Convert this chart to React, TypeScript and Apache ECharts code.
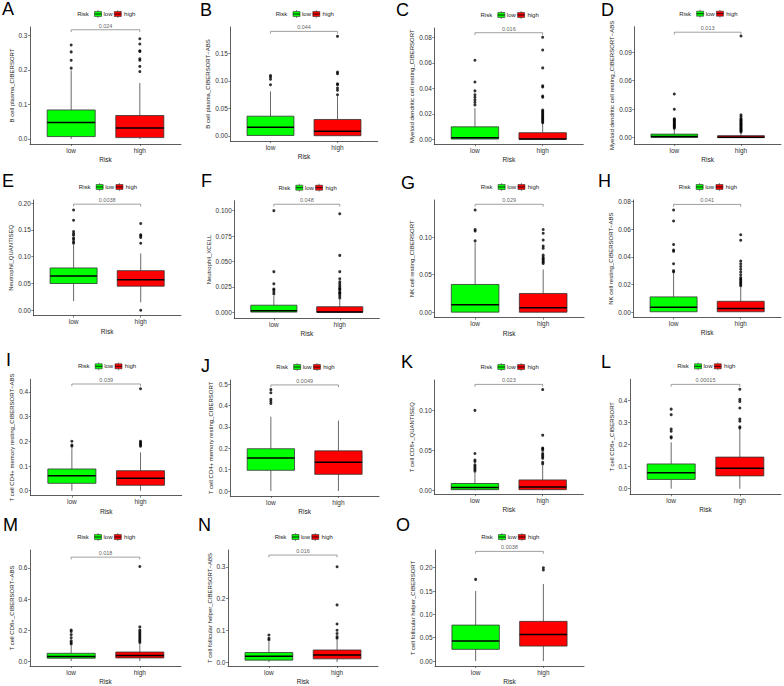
import React, { useEffect, useRef } from "react";
import * as echarts from "echarts";

// ---------------- data ----------------
const categories = ["low", "high"];
const legendTitle = "Risk";
const xTitle = "Risk";
const panelLetters = ["A", "B", "C", "D", "E", "F", "G", "H", "I", "J", "K", "L", "M", "N", "O"];
const yTitles = [
  "B cell plasma_CIBERSORT",
  "B cell plasma_CIBERSORT\u2212ABS",
  "Myeloid dendritic cell resting_CIBERSORT",
  "Myeloid dendritic cell resting_CIBERSORT\u2212ABS",
  "Neutrophil_QUANTISEQ",
  "Neutrophil_XCELL",
  "NK cell resting_CIBERSORT",
  "NK cell resting_CIBERSORT\u2212ABS",
  "T cell CD4+ memory resting_CIBERSORT\u2212ABS",
  "T cell CD4+ memory resting_CIBERSORT",
  "T cell CD8+_QUANTISEQ",
  "T cell CD8+_CIBERSORT",
  "T cell CD8+_CIBERSORT\u2212ABS",
  "T cell follicular helper_CIBERSORT\u2212ABS",
  "T cell follicular helper_CIBERSORT",
];
const pValues = ["0.024", "0.044", "0.016", "0.013", "0.0038", "0.048", "0.029", "0.041", "0.039", "0.0049", "0.023", "0.00015", "0.018", "0.016", "0.0038"];

// [lower whisker, Q1, median, Q3, upper whisker]
const lowBoxes = [
  [0, 0.007, 0.048, 0.084, 0.198],
  [0, 0.001, 0.016, 0.036, 0.081],
  [0, 0.0002, 0.0012, 0.0098, 0.0245],
  [0, 0.0003, 0.0012, 0.0038, 0.0095],
  [0.017, 0.05, 0.064, 0.079, 0.122],
  [0, 0.0002, 0.0015, 0.007, 0.016],
  [0, 0.0002, 0.01, 0.037, 0.093],
  [0, 0.0002, 0.0035, 0.011, 0.028],
  [0, 0.03, 0.061, 0.088, 0.172],
  [0, 0.097, 0.155, 0.198, 0.348],
  [0, 0.0008, 0.0035, 0.0085, 0.022],
  [0, 0.042, 0.072, 0.112, 0.21],
  [0, 0.018, 0.03, 0.05, 0.1],
  [0, 0.006, 0.018, 0.03, 0.065],
  [0, 0.025, 0.043, 0.077, 0.15],
];
const highBoxes = [
  [0, 0.004, 0.032, 0.068, 0.162],
  [0, 0.0005, 0.0085, 0.03, 0.072],
  [0, 0.0001, 0.0003, 0.0052, 0.0125],
  [0, 0.0001, 0.0005, 0.0022, 0.0052],
  [0.015, 0.045, 0.057, 0.074, 0.106],
  [0, 0.0001, 0.0004, 0.0055, 0.013],
  [0, 0.0001, 0.006, 0.025, 0.057],
  [0, 0.0002, 0.0025, 0.0078, 0.018],
  [0, 0.022, 0.05, 0.081, 0.155],
  [0, 0.078, 0.135, 0.188, 0.33],
  [0, 0.0008, 0.004, 0.013, 0.031],
  [0, 0.058, 0.093, 0.143, 0.27],
  [0, 0.02, 0.035, 0.058, 0.11],
  [0, 0.01, 0.022, 0.038, 0.07],
  [0, 0.032, 0.057, 0.085, 0.165],
];
const lowOutliers = [
  [0.205, 0.228, 0.252, 0.272],
  [0.093, 0.103, 0.107, 0.11],
  [0.027, 0.029, 0.031, 0.033, 0.035, 0.038, 0.045, 0.062],
  [0.01, 0.011, 0.012, 0.013, 0.014, 0.015, 0.016, 0.017, 0.018, 0.019, 0.02, 0.03, 0.046],
  [0.125, 0.128, 0.132, 0.135, 0.14, 0.143, 0.147, 0.168, 0.187],
  [0.018, 0.02, 0.022, 0.023, 0.028, 0.04, 0.1],
  [0.095, 0.108, 0.11, 0.136],
  [0.029, 0.03, 0.035, 0.044, 0.045, 0.049, 0.066, 0.074],
  [0.18, 0.185, 0.2],
  [0.41, 0.42, 0.43, 0.46, 0.475],
  [0.024, 0.026, 0.028, 0.03, 0.032, 0.036, 0.038, 0.046, 0.1],
  [0.23, 0.235, 0.26, 0.27, 0.335, 0.36],
  [0.11, 0.12, 0.13, 0.15, 0.17, 0.19, 0.2],
  [0.07, 0.075, 0.085],
  [0.175],
];
const highOutliers = [
  [0.195, 0.21, 0.228, 0.232, 0.253, 0.255, 0.275, 0.29],
  [0.075, 0.083, 0.087, 0.093, 0.095, 0.113, 0.116, 0.181],
  [0.013, 0.014, 0.015, 0.016, 0.017, 0.018, 0.019, 0.02, 0.021, 0.022, 0.023, 0.033, 0.034, 0.041, 0.042, 0.056, 0.07, 0.08],
  [0.006, 0.007, 0.008, 0.009, 0.01, 0.011, 0.012, 0.013, 0.014, 0.015, 0.016, 0.017, 0.018, 0.019, 0.02, 0.022, 0.024, 0.107],
  [0.0, 0.125, 0.136, 0.139, 0.141, 0.162],
  [0.014, 0.016, 0.018, 0.019, 0.02, 0.022, 0.023, 0.024, 0.026, 0.028, 0.03, 0.033, 0.04, 0.056, 0.097],
  [0.065, 0.067, 0.069, 0.071, 0.073, 0.076, 0.085, 0.088, 0.096, 0.105, 0.11],
  [0.019, 0.02, 0.021, 0.022, 0.023, 0.024, 0.025, 0.027, 0.029, 0.031, 0.033, 0.035, 0.037, 0.052, 0.056],
  [0.18, 0.185, 0.19, 0.195, 0.2, 0.413],
  [],
  [0.033, 0.035, 0.04, 0.042, 0.044, 0.046, 0.05, 0.052, 0.053, 0.069, 0.126],
  [0.275, 0.28, 0.305, 0.315, 0.365, 0.395, 0.405, 0.45],
  [0.12, 0.13, 0.14, 0.15, 0.16, 0.17, 0.18, 0.19, 0.2, 0.22, 0.61],
  [0.075, 0.08, 0.09, 0.1, 0.12, 0.18, 0.3],
  [0.195, 0.2],
];
const bracketY = [0.316, 0.19, 0.0836, 0.111, 0.198, 0.1063, 0.1436, 0.078, 0.432, 0.497, 0.1325, 0.472, 0.67, 0.337, 0.235];
const yMins = [-0.0145, -0.0091, -0.0039, -0.0066, -0.0101, -0.0059, -0.0072, -0.0038, -0.0202, -0.0234, -0.005, -0.0253, -0.032, -0.0125, -0.0107];
const yMaxs = [0.324, 0.198, 0.0873, 0.1168, 0.2058, 0.1098, 0.1493, 0.0812, 0.451, 0.52, 0.138, 0.495, 0.716, 0.353, 0.238];
const yTickLabels = [
  ["0.0", "0.1", "0.2", "0.3"],
  ["0.00", "0.05", "0.10", "0.15"],
  ["0.00", "0.02", "0.04", "0.06", "0.08"],
  ["0.00", "0.03", "0.06", "0.09"],
  ["0.00", "0.05", "0.10", "0.15", "0.20"],
  ["0.000", "0.025", "0.050", "0.075", "0.100"],
  ["0.00", "0.05", "0.10"],
  ["0.00", "0.02", "0.04", "0.06", "0.08"],
  ["0.0", "0.1", "0.2", "0.3", "0.4"],
  ["0.0", "0.1", "0.2", "0.3", "0.4", "0.5"],
  ["0.00", "0.05", "0.10"],
  ["0.0", "0.1", "0.2", "0.3", "0.4"],
  ["0.0", "0.2", "0.4", "0.6"],
  ["0.0", "0.1", "0.2", "0.3"],
  ["0.00", "0.05", "0.10", "0.15", "0.20"],
];

// ---------------- layout / style ----------------
// [left, top, right, bottom] in px
const gridBoxes = [
  [30, 27, 181, 144],
  [230.3, 27, 377.7, 141],
  [434.3, 28, 583.3, 144.3],
  [634.3, 26.7, 781, 144],
  [33.3, 200, 181, 315.7],
  [234.3, 200.7, 379.3, 318.3],
  [434.3, 200, 584, 317.7],
  [633.3, 200, 781, 317.3],
  [30.7, 379.3, 181.7, 495.7],
  [230.3, 380, 379, 496],
  [434.3, 380, 583.3, 494.3],
  [630, 379.3, 781, 494.3],
  [30, 550, 181, 666.7],
  [228, 550, 378, 667],
  [435, 550, 584, 666],
];
const letterPos = [
  [2, 3], [200, 4], [396, 4], [601, 4],
  [2, 175], [201, 175], [401, 177], [598, 175],
  [6, 354], [201, 360], [401, 356], [601, 356],
  [3, 519], [198, 519], [396, 519],
];
const titleCenters = [15, 18.6, 20, 18.6, 18, 23, 20, 18, 17, 19.6, 21, 15.7, 16, 17, 20];
const fills = ["#00FF00", "#FF0000"];
const FONT = "Liberation Sans, Arial, sans-serif";
const BOX_W = 0.7;

export default function App() {
  const ref = useRef<HTMLDivElement>(null);
  useEffect(() => {
    if (!ref.current) return;
    const chart = echarts.init(ref.current, null, { renderer: "svg" });
    const grid: any[] = [];
    const xAxis: any[] = [];
    const yAxis: any[] = [];
    const series: any[] = [];
    const graphic: any[] = [];

    panelLetters.forEach((letter, i) => {
      const [l, t, r, b] = gridBoxes[i];
      grid.push({ left: l, top: t, width: r - l, height: b - t, containLabel: false });
      xAxis.push({
        type: "value",
        gridIndex: i,
        min: 0.4,
        max: 2.6,
        name: xTitle,
        nameLocation: "middle",
        nameGap: 12,
        nameTextStyle: { fontSize: 6.5, color: "#222", fontFamily: FONT },
        axisLine: { onZero: false, lineStyle: { color: "#333", width: 0.8 } },
        axisTick: { customValues: [1, 2], length: 2, lineStyle: { color: "#333", width: 0.6 } },
        axisLabel: {
          customValues: [1, 2],
          formatter: (v: number) => categories[Math.round(v) - 1] ?? "",
          fontSize: 6.5,
          color: "#333",
          margin: 2.5,
          fontFamily: FONT,
        },
        splitLine: { show: false },
      });
      const ticks = yTickLabels[i].map((s) => parseFloat(s));
      yAxis.push({
        type: "value",
        gridIndex: i,
        min: yMins[i],
        max: yMaxs[i],
        name: yTitles[i],
        nameLocation: "middle",
        nameRotate: 90,
        nameGap: titleCenters[i] - 3,
        nameTextStyle: { fontSize: 6, color: "#222", fontFamily: FONT },
        axisLine: { show: true, onZero: false, lineStyle: { color: "#333", width: 0.8 } },
        axisTick: { show: true, customValues: ticks, length: 2, lineStyle: { color: "#333", width: 0.6 } },
        axisLabel: {
          customValues: ticks,
          formatter: (v: number) => {
            const k = ticks.findIndex((tv) => Math.abs(tv - v) < 1e-9);
            return k >= 0 ? yTickLabels[i][k] : "";
          },
          fontSize: 6.5,
          color: "#333",
          margin: 2.5,
          fontFamily: FONT,
        },
        splitLine: { show: false },
      });

      const boxData = [
        [1, ...lowBoxes[i]],
        [2, ...highBoxes[i]],
      ];
      series.push({
        type: "custom",
        xAxisIndex: i,
        yAxisIndex: i,
        silent: true,
        encode: { x: 0, y: [1, 2, 3, 4, 5] },
        data: boxData,
        renderItem: (params: any, api: any) => {
          const x = api.value(0);
          const lo = api.coord([x, api.value(1)]);
          const q1 = api.coord([x, api.value(2)]);
          const med = api.coord([x, api.value(3)]);
          const q3 = api.coord([x, api.value(4)]);
          const hi = api.coord([x, api.value(5)]);
          const w = api.size([BOX_W, 0])[0];
          const fill = fills[params.dataIndex];
          return {
            type: "group",
            children: [
              { type: "line", shape: { x1: lo[0], y1: lo[1], x2: q1[0], y2: q1[1] }, style: { stroke: "#444", lineWidth: 0.8 } },
              { type: "line", shape: { x1: q3[0], y1: q3[1], x2: hi[0], y2: hi[1] }, style: { stroke: "#444", lineWidth: 0.8 } },
              {
                type: "rect",
                shape: { x: q3[0] - w / 2, y: q3[1], width: w, height: Math.max(q1[1] - q3[1], 0.5) },
                style: { fill, stroke: "#333", lineWidth: 0.8 },
              },
              { type: "line", shape: { x1: med[0] - w / 2, y1: med[1], x2: med[0] + w / 2, y2: med[1] }, style: { stroke: "#000", lineWidth: 1.5 } },
            ],
          };
        },
      });
      series.push({
        type: "scatter",
        xAxisIndex: i,
        yAxisIndex: i,
        silent: true,
        symbol: "circle",
        symbolSize: 3,
        itemStyle: { color: "#000" },
        data: [
          ...lowOutliers[i].map((v) => [1, v]),
          ...highOutliers[i].map((v) => [2, v]),
        ],
      });
      const tip = 0.02 * (yMaxs[i] - yMins[i]);
      series.push({
        type: "line",
        xAxisIndex: i,
        yAxisIndex: i,
        silent: true,
        showSymbol: false,
        symbol: "none",
        lineStyle: { color: "#777", width: 0.7 },
        data: [
          [1, bracketY[i] - tip],
          [1, bracketY[i]],
          [2, bracketY[i]],
          [2, bracketY[i] - tip],
        ],
      });
      series.push({
        type: "scatter",
        xAxisIndex: i,
        yAxisIndex: i,
        silent: true,
        symbolSize: 0.1,
        itemStyle: { color: "rgba(0,0,0,0)" },
        label: {
          show: true,
          position: "top",
          distance: 1,
          formatter: pValues[i],
          fontSize: 5.5,
          color: "#333",
          fontFamily: FONT,
        },
        data: [[1.5, bracketY[i]]],
      });

      // panel letter
      graphic.push({
        type: "text",
        x: letterPos[i][0],
        y: Math.max(0, letterPos[i][1] - 3),
        style: { text: letter, fontSize: 18, fontFamily: FONT, fill: "#000", textVerticalAlign: "top" },
      });
      // legend
      const cx = (l + r) / 2;
      const cy = t - 13;
      const legendFont = { fontSize: 6, fontFamily: FONT, fill: "#222", textVerticalAlign: "middle" };
      graphic.push({ type: "text", x: cx - 28.3, y: cy, style: { text: legendTitle, ...legendFont } });
      const keyXs = [cx - 11, cx + 8.8];
      const keyLabelXs = [cx - 2, cx + 18.6];
      categories.forEach((c, k) => {
        const kx = keyXs[k];
        graphic.push({ type: "line", shape: { x1: kx + 3.5, y1: cy - 4, x2: kx + 3.5, y2: cy + 4 }, style: { stroke: "#444", lineWidth: 0.6 } });
        graphic.push({ type: "rect", shape: { x: kx, y: cy - 2.5, width: 7, height: 5 }, style: { fill: fills[k], stroke: "#333", lineWidth: 0.6 } });
        graphic.push({ type: "line", shape: { x1: kx, y1: cy, x2: kx + 7, y2: cy }, style: { stroke: "#000", lineWidth: 0.8 } });
        graphic.push({ type: "text", x: keyLabelXs[k], y: cy, style: { text: c, ...legendFont } });
      });
    });

    chart.setOption({
      animation: false,
      backgroundColor: "#fff",
      textStyle: { fontFamily: FONT },
      grid,
      xAxis,
      yAxis,
      series,
      graphic,
    });
    return () => chart.dispose();
  }, []);
  return <div ref={ref} style={{ position: "absolute", left: 0, top: 0, width: 784, height: 686 }} />;
}
